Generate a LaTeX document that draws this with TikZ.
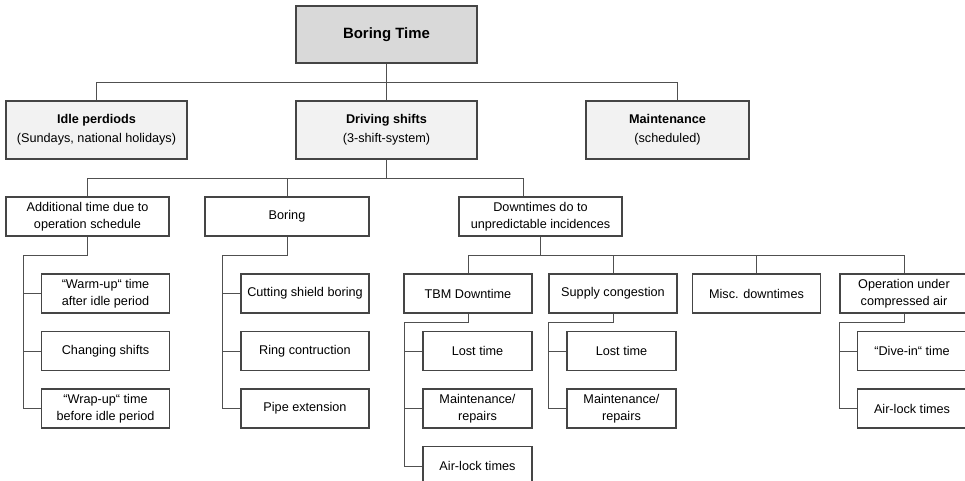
\documentclass[tikz,border=0pt]{standalone}
\usepackage{fontspec}
\setmainfont{Liberation Sans}
\definecolor{boxline}{HTML}{454545}
\definecolor{linkline}{HTML}{505050}
\definecolor{headfill}{HTML}{F2F2F2}
\definecolor{rootfill}{HTML}{D9D9D9}
\begin{document}
\begin{tikzpicture}[x=0.75pt, y=-0.75pt,
        font=\fontsize{9.5}{12.5}\selectfont,
        box/.style={draw=boxline, line width=0.8pt, fill=white, align=center,
            inner sep=1pt, minimum height=29.25pt},
        headbox/.style={box, fill=headfill, minimum width=135.75pt,
            minimum height=43.5pt, font=\fontsize{9.5}{14.25}\selectfont},
        midbox/.style={box, minimum width=122.25pt},
        subbox/.style={box, minimum width=96pt},
        leafbox/.style={box, minimum width=81.75pt},
        link/.style={draw=linkline, line width=0.7pt}]
    \useasboundingbox (0,0) rectangle (965,481);
    \clip (0,0) rectangle (965,481);

    % top levels
    \node[headbox, fill=rootfill, minimum height=42.75pt,
        font=\fontsize{11.2}{13}\selectfont\bfseries] (root) at (386.5,34.5) {Boring Time};
    \node[headbox] (idle) at (96.5,130) {\textbf{Idle perdiods}\\(Sundays, national holidays)};
    \node[headbox] (drive) at (386.5,130) {\textbf{Driving shifts}\\(3-shift-system)};
    \node[headbox, minimum width=122.25pt] (maint) at (667.5,130) {\textbf{Maintenance}\\(scheduled)};

    \node[midbox] (addl) at (87.5,216.5) {Additional time due to\\operation schedule};
    \node[midbox, minimum width=123pt] (boring) at (287,216.5) {Boring};
    \node[midbox] (down) at (540.5,216.5) {Downtimes do to\\unpredictable incidences};

    % third level
    \foreach \nm/\px/\py/\lbl in {
        warm/105.5/293.5/{“Warm-up“ time\\after idle period},
        change/105.5/351/{Changing shifts},
        wrapup/105.5/408.5/{“Wrap-up“ time\\before idle period},
        cutting/305/293.5/{Cutting shield boring},
        ring/305/351/{Ring contruction},
        pipe/305/408.5/{Pipe extension},
        tbm/468/293.5/{TBM Downtime},
        supply/613/293.5/{Supply congestion},
        misc/756.5/293.5/{Misc. downtimes},
        oper/904/293.5/{Operation under\\compressed air}%
    } {
        \node[subbox] (\nm) at (\px,\py) {\lbl};
    }

    % fourth level
    \foreach \nm/\px/\py/\lbl in {
        tlost/477.5/351/{Lost time},
        tmaint/477.5/408.5/{Maintenance/\\repairs},
        tair/477.5/466/{Air-lock times},
        slost/621.5/351/{Lost time},
        smaint/621.5/408.5/{Maintenance/\\repairs},
        odive/912/351/{“Dive-in“ time},
        oair/912/408.5/{Air-lock times}%
    } {
        \node[leafbox] (\nm) at (\px,\py) {\lbl};
    }

    % buses
    \draw[link] (root) -- (drive);
    \draw[link] (idle.north) -- ++(0,-18) -| ([xshift=7.5pt]maint.north);
    \draw[link] (drive.south) -- ++(0,19) coordinate (busB);
    \draw[link] (addl.north) |- (busB) -| ([xshift=-13pt]down.north);
    \draw[link] (busB -| boring.north) -- (boring.north);
    \draw[link] (down.south) -- ++(0,19) coordinate (busC);
    \draw[link] (tbm.north) |- (busC) -| (oper.north);
    \draw[link] (busC -| supply.north) -- (supply.north);
    \draw[link] (busC -| misc.north) -- (misc.north);

    % trunks
    \foreach \parent/\last/\drop in {addl/wrapup/19, boring/pipe/19,
        tbm/tair/9, supply/smaint/9, oper/oair/9} {
        \draw[link] (\parent.south) -- ++(0,\drop)
            -| ([xshift=-13.5pt]\last.west) -- (\last.west);
    }
    \foreach \child in {warm, change, cutting, ring, tlost, tmaint, slost, odive} {
        \draw[link] (\child.west) -- ++(-18,0);
    }
\end{tikzpicture}
\end{document}
